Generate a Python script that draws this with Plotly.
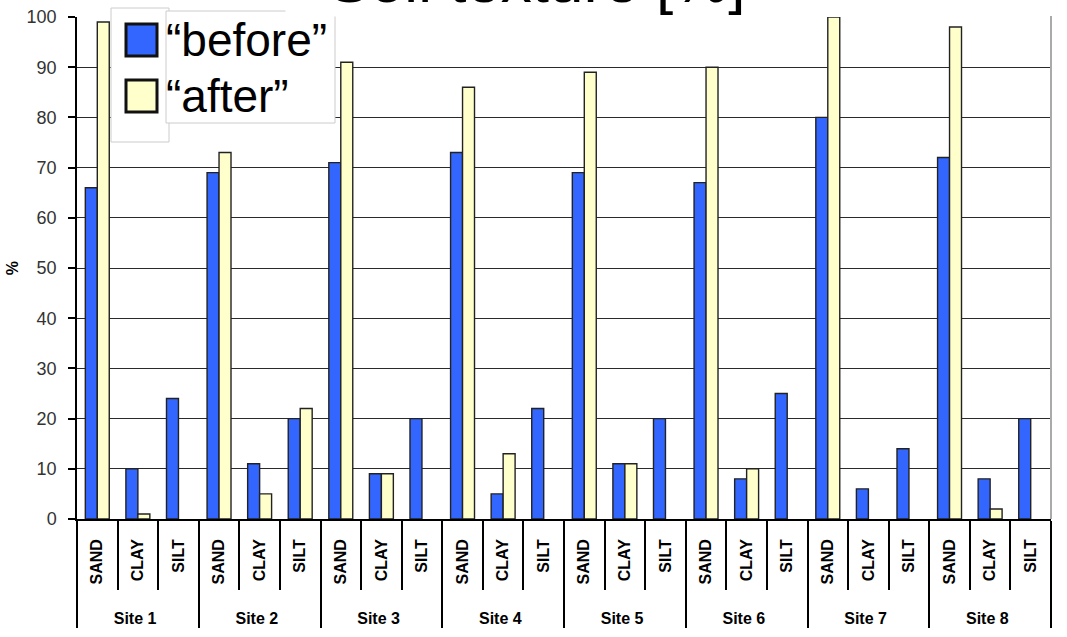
import plotly.graph_objects as go

# Soil texture per site, before and after treatment (percent)
sites = ["Site 1", "Site 2", "Site 3", "Site 4", "Site 5", "Site 6", "Site 7", "Site 8"]
fractions = ["SAND", "CLAY", "SILT"]
before = [66, 10, 24, 69, 11, 20, 71, 9, 20, 73, 5, 22,
          69, 11, 20, 67, 8, 25, 80, 6, 14, 72, 8, 20]
after = [99, 1, None, 73, 5, 22, 91, 9, None, 86, 13, None,
         89, 11, None, 90, 10, None, 100, None, None, 98, 2, None]
y_ticks = [0, 10, 20, 30, 40, 50, 60, 70, 80, 90, 100]

# site names sit one line lower than the fraction labels
x_outer = ["<br>" + s for s in sites for _ in fractions]
x_inner = [f for _ in sites for f in fractions]

W, H = 1067, 637
ML, MR, MT, MB = 77, 16, 17, 118
PW, PH = W - ML - MR, H - MT - MB


def px(xp):
    return (xp - ML) / PW


def py(yp):
    return (H - MB - yp) / PH


fig = go.Figure()
fig.add_trace(go.Bar(
    x=[x_outer, x_inner], y=before, name="\u201cbefore\u201d",
    marker=dict(color="#3366FF", line=dict(color="#222222", width=1.4)),
    showlegend=False,
))
fig.add_trace(go.Bar(
    x=[x_outer, x_inner], y=after, name="\u201cafter\u201d",
    marker=dict(color="#FFFFCC", line=dict(color="#222222", width=1.4)),
    showlegend=False,
))

font = "Liberation Sans, Arial, sans-serif"

shapes = [
    # right border of the chart area
    dict(type="line", xref="paper", yref="paper", x0=1, x1=1, y0=0, y1=py(16),
         line=dict(color="#aaaaaa", width=2)),
    # legend frames
    dict(type="rect", xref="paper", yref="paper", layer="above",
         x0=px(111), x1=px(169), y0=py(142), y1=py(8),
         fillcolor="white", line=dict(color="#cccccc", width=1)),
    dict(type="rect", xref="paper", yref="paper", layer="above",
         x0=px(166), x1=px(335), y0=py(123), y1=py(11),
         fillcolor="white", line=dict(color="#cccccc", width=1)),
    # legend swatches
    dict(type="rect", xref="paper", yref="paper", layer="above",
         x0=px(126), x1=px(157), y0=py(56), y1=py(24),
         fillcolor="#3366FF", line=dict(color="#111111", width=3)),
    dict(type="rect", xref="paper", yref="paper", layer="above",
         x0=px(126), x1=px(157), y0=py(112), y1=py(80),
         fillcolor="#FFFFCC", line=dict(color="#111111", width=3)),
]

annotations = [
    dict(text="Soil texture [%]", xref="paper", yref="paper",
         x=px(537), y=py(17), xanchor="center", yanchor="bottom",
         showarrow=False, bgcolor="white", width=500,
         font=dict(family=font, size=62, color="black")),
    dict(text="\u201cbefore\u201d", xref="paper", yref="paper",
         x=px(164), y=py(40), xanchor="left", yanchor="middle",
         showarrow=False, font=dict(family=font, size=46, color="black")),
    dict(text="\u201cafter\u201d", xref="paper", yref="paper",
         x=px(164), y=py(96), xanchor="left", yanchor="middle",
         showarrow=False, font=dict(family=font, size=46, color="black")),
]

fig.update_layout(
    width=W, height=H,
    margin=dict(l=ML, r=MR, t=MT, b=MB, autoexpand=False),
    paper_bgcolor="white", plot_bgcolor="white",
    barmode="group", bargap=0.41, bargroupgap=0,
    shapes=shapes, annotations=annotations,
    font=dict(family=font, color="black"),
)

fig.update_yaxes(
    range=[0, 100], tickvals=y_ticks, automargin=False,
    showgrid=True, gridcolor="#2a2a2a", gridwidth=1.4,
    showline=True, linecolor="black", linewidth=1.5,
    ticks="outside", ticklen=7, tickcolor="black", tickwidth=1.5,
    ticklabelstandoff=8,
    tickfont=dict(family=font, size=18, color="#333333", weight="normal"),
    title=dict(text="%", font=dict(family=font, size=16, weight="bold"), standoff=4),
    zeroline=False,
)

fig.update_xaxes(
    type="multicategory", automargin=False,
    showline=True, linecolor="black", linewidth=1.5,
    ticks="outside", tickson="boundaries", ticklen=69,
    tickcolor="black", tickwidth=1.5, tickangle=-90,
    ticklabelstandoff=12,
    tickfont=dict(family=font, size=16, color="black", weight="bold"),
    showdividers=True, dividercolor="black", dividerwidth=1.5,
    showgrid=False,
)

fig.write_html("out.html")
